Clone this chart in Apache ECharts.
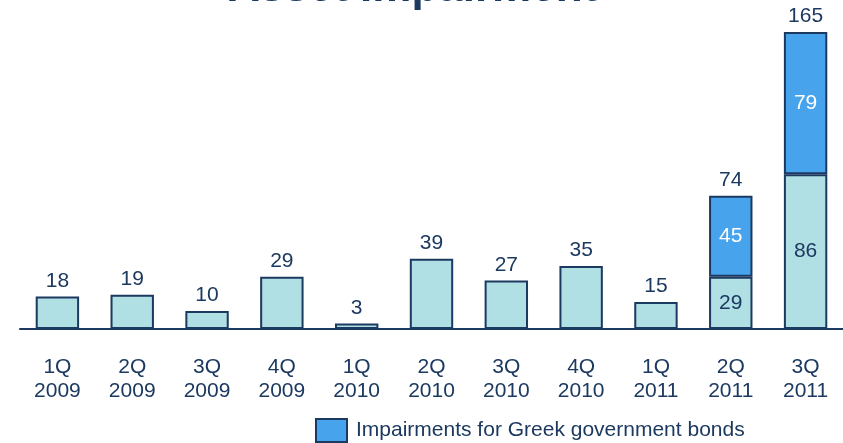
<!DOCTYPE html>
<html><head><meta charset="utf-8">
<script src="https://cdn.jsdelivr.net/npm/echarts@6/dist/echarts.min.js"></script>
<style>html,body{margin:0;padding:0;background:#fff}#c{width:843px;height:443px}</style>
</head><body><div id="c"></div>
<script>
const categories = ['1Q\n2009','2Q\n2009','3Q\n2009','4Q\n2009','1Q\n2010','2Q\n2010','3Q\n2010','4Q\n2010','1Q\n2011','2Q\n2011','3Q\n2011'];
const otherImpairments = [18,19,10,29,3,39,27,35,15,29,86];
const greekImpairments = [null,null,null,null,null,null,null,null,null,45,79];
const titleText = 'Asset Impairment';
const greekName = 'Impairments for Greek government bonds';

const navy = '#1c3960';
const FF = '"Liberation Sans", Arial, sans-serif';
const totals = otherImpairments.map((v,i)=> v + (greekImpairments[i]||0));
const hasGreek = greekImpairments.map(v=> v!=null);

const baseData = otherImpairments.map((v,i)=>({
  value: v,
  label: hasGreek[i] ? {position:'inside'} : {position:'top'}
}));
const totalData = totals.map((t,i)=> hasGreek[i] ? 0 : null);

const chart = echarts.init(document.getElementById('c'));
chart.setOption({
  animation:false,
  textStyle:{fontFamily:FF},
  graphic:[{type:'text', left:228, top:-33, style:{text:titleText, fill:navy, font:'bold 44px ' + FF}}],
  legend:{data:[greekName], left:310, top:413, itemWidth:31, itemHeight:23, itemGap:10, icon:'rect',
    textStyle:{color:navy, fontSize:21, fontFamily:FF, padding:[0,0,0,4]}},
  grid:{left:20, right:0, top:5, bottom:114},
  xAxis:{type:'category', data:categories,
    axisLine:{lineStyle:{color:navy, width:2}}, axisTick:{show:false},
    axisLabel:{color:navy, fontSize:21, lineHeight:24, margin:26, fontFamily:FF}},
  yAxis:{type:'value', min:0, max:180, show:false, splitLine:{show:false}},
  series:[
    {name:'Other', type:'bar', stack:'s', data:baseData, barWidth:'58%',
     itemStyle:{color:'#b0dfe4', borderColor:navy, borderWidth:2},
     label:{show:true, color:navy, fontSize:21, distance:5}},
    {name:greekName, type:'bar', stack:'s', data:greekImpairments,
     itemStyle:{color:'#47a4ec', borderColor:navy, borderWidth:2},
     label:{show:true, position:'inside', color:'#ffffff', fontSize:21}},
    {name:'Total', type:'bar', stack:'s', data:totalData, silent:true,
     itemStyle:{color:'rgba(0,0,0,0)', borderWidth:0},
     label:{show:true, position:'top', color:navy, fontSize:21, distance:5,
       formatter:p=> totals[p.dataIndex]}}
  ]
});
</script></body></html>
